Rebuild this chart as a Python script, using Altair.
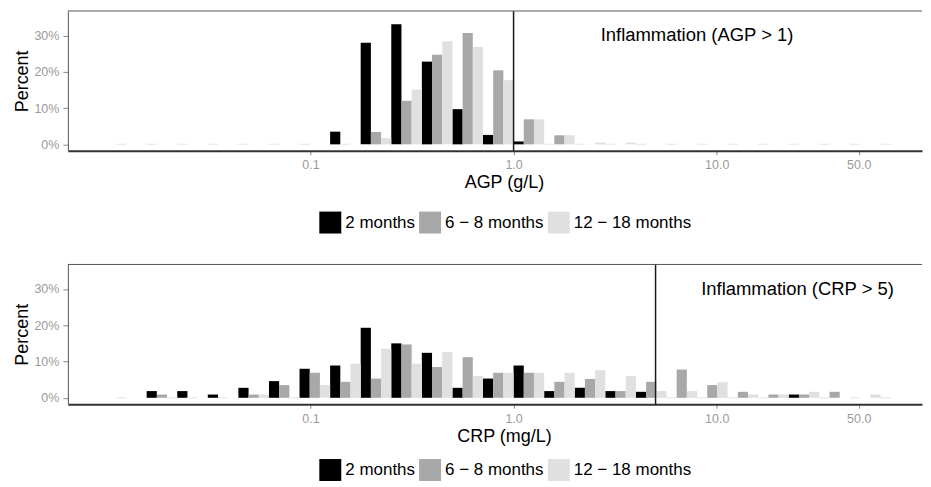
import altair as alt
import pandas as pd

FONT = "Liberation Sans"

# histogram bins: bin k spans 2^(k/2) .. 2^((k+1)/2)
bins = list(range(-13, 13))
groups = ["2 months", "6 − 8 months", "12 − 18 months"]
colors = ["#000000", "#A8A8A8", "#E0E0E0"]

# AGP (g/L), percent per bin, k = -13 .. 12
agp_2m  = [0, 0, 0, 0, 0, 0, 0, 3.5, 28.0, 33.1, 22.8, 9.7, 2.6, 0.8, 0, 0, 0, 0, 0, 0, 0, 0, 0, 0, 0, 0]
agp_6m  = [0, 0, 0, 0, 0, 0, 0, 0, 3.4, 12.0, 24.7, 30.7, 20.4, 6.9, 2.5, 0, 0, 0, 0, 0, 0, 0, 0, 0, 0, 0]
agp_12m = [0, 0, 0, 0, 0, 0, 0, 0, 1.7, 15.1, 28.4, 26.8, 17.7, 6.9, 2.5, 0.5, 0.5, 0, 0, 0, 0, 0, 0, 0, 0, 0]

# CRP (mg/L), percent per bin, k = -13 .. 12
crp_2m  = [0, 1.85, 1.85, 0.9, 2.75, 4.6, 8.0, 8.9, 19.3, 15.0, 12.4, 2.75, 5.3, 8.9, 1.85, 2.75, 1.85, 1.65, 0, 0, 0, 0, 0.9, 0, 0, 0]
crp_6m  = [0, 0.9, 0, 0, 0.9, 3.5, 6.9, 4.4, 5.3, 14.7, 8.5, 11.2, 6.9, 6.9, 4.4, 5.2, 1.85, 4.4, 7.8, 3.5, 1.65, 0.9, 0.9, 1.65, 0, 0]
crp_12m = [0, 0, 0, 0, 0.9, 0, 3.5, 9.4, 13.5, 9.4, 12.6, 6.0, 6.9, 6.9, 6.9, 7.6, 6.0, 1.85, 1.85, 4.3, 0.9, 0.9, 1.65, 0, 0.9, 0]

x_ticks = [0.1, 1, 10, 50]
y_ticks = [0, 10, 20, 30]
x_domain = [10 ** -2.194, 10 ** 2.0105]
y_domain = [-1.75, 36.75]

W, H = 856, 140


def bar_table(series):
    rows = []
    for j, (g, vals) in enumerate(zip(groups, series)):
        for k, v in zip(bins, vals):
            rows.append(dict(group=g, lo=2 ** ((k + j / 3) / 2),
                             hi=2 ** ((k + (j + 1) / 3) / 2), pct=v))
    return pd.DataFrame(rows)


def zero_table(series):
    rows = []
    for i, k in enumerate(bins):
        for j in range(3):
            if series[j][i] == 0:
                rows.append(dict(lo=2 ** ((k + j / 3) / 2), hi=2 ** ((k + (j + 1) / 3) / 2)))
                break
    return pd.DataFrame(rows)


def panel(series, xtitle, thr, ann_x, ann_y, ann_text, legend_y):
    xscale = alt.Scale(type="log", domain=x_domain, nice=False)
    yscale = alt.Scale(domain=y_domain, nice=False, zero=False)
    xaxis = alt.Axis(values=x_ticks, labelExpr="format(datum.value, '.1f')", title=xtitle,
                     grid=False, domainColor="#333333", domainWidth=2, tickColor="#888888",
                     tickSize=4, labelColor="#9a9a9a", labelFontSize=12.5, labelFont=FONT,
                     labelPadding=4, titleFont=FONT, titleFontSize=18, titleFontWeight="normal",
                     titleColor="black", titleX=437, titleY=37, titleBaseline="alphabetic",
                     titleAlign="center", labelFlush=False)
    yaxis = alt.Axis(values=y_ticks, labelExpr="datum.value + '%'", title="Percent",
                     grid=False, domainColor="#555555", domainWidth=1, tickColor="#888888",
                     tickSize=5, labelPadding=4, labelColor="#9a9a9a", labelFontSize=12.5,
                     labelFont=FONT, titleFont=FONT, titleFontSize=18, titleFontWeight="normal",
                     titleColor="black", titleAngle=270, titleX=-40, titleY=H / 2,
                     titleAlign="center", titleBaseline="alphabetic")
    legend = alt.Legend(orient="none", legendX=252, legendY=legend_y, direction="horizontal",
                        title=None, symbolType="square", symbolSize=484, symbolStrokeWidth=0,
                        labelFontSize=17, labelFont=FONT, labelColor="black", columnPadding=4,
                        labelOffset=4, padding=0, labelLimit=400)

    bars = alt.Chart(bar_table(series)).mark_rect().encode(
        x=alt.X("lo:Q", scale=xscale, axis=xaxis),
        x2="hi:Q",
        y=alt.Y("pct:Q", scale=yscale, axis=yaxis),
        y2=alt.datum(0),
        color=alt.Color("group:N", scale=alt.Scale(domain=groups, range=colors),
                        legend=legend, sort=groups),
    )
    zeros = alt.Chart(zero_table(series)).mark_rule(color="#ececec", strokeWidth=1.5).encode(
        x=alt.X("lo:Q"), x2="hi:Q", y=alt.datum(0))
    thr_line = alt.Chart(pd.DataFrame({"t": [thr]})).mark_rule(
        color="#1a1a1a", strokeWidth=1.5).encode(x=alt.X("t:Q"))
    ann = alt.Chart(pd.DataFrame({"x": [ann_x], "y": [ann_y], "s": [ann_text]})).mark_text(
        font=FONT, fontSize=18.5, color="black", align="center", baseline="middle").encode(
        x=alt.X("x:Q"), y=alt.Y("y:Q"), text="s:N")
    top = alt.Chart(pd.DataFrame({"a": [0]})).mark_rule(color="#555555", strokeWidth=1).encode(
        x=alt.value(0), x2=alt.value(W), y=alt.value(0))
    return alt.layer(bars, zeros, thr_line, ann, top).properties(width=W, height=H)


p1 = panel([agp_2m, agp_6m, agp_12m], "AGP (g/L)", 1.0, 8.0, 30, "Inflammation (AGP > 1)", 201)
p2 = panel([crp_2m, crp_6m, crp_12m], "CRP (mg/L)", 5.0, 25.0, 30, "Inflammation (CRP > 5)", 195)

chart = alt.vconcat(p1, p2, spacing=30).resolve_scale(color="independent").resolve_legend(
    color="independent").properties(
    padding={"left": 6, "top": 1.5, "right": 0, "bottom": 0}, background="white"
).configure_view(stroke=None)

chart.save("out.html", embed_options={"renderer": "svg", "actions": False})
